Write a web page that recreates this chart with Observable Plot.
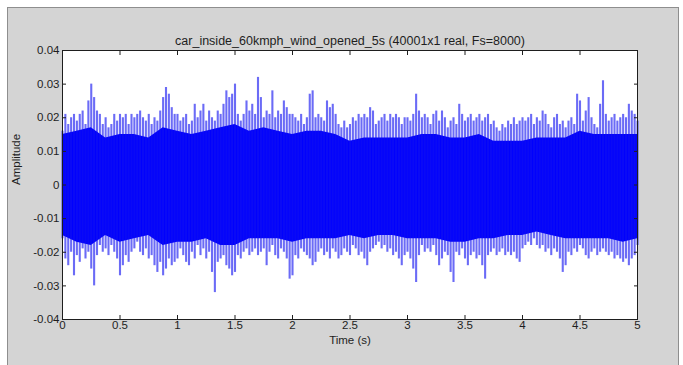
<!DOCTYPE html>
<html><head><meta charset="utf-8">
<script src="https://cdn.jsdelivr.net/npm/d3@7"></script>
<script src="https://cdn.jsdelivr.net/npm/@observablehq/plot@0.6"></script>
<style>
html,body{margin:0;padding:0;background:#fff;}
#wrap{position:relative;width:683px;height:365px;overflow:hidden;}
#panel{position:absolute;left:7px;top:7px;width:672px;height:380px;background:#d4d4d4;border:1px solid #8e8e8e;box-sizing:border-box;}
#chart{position:absolute;left:0;top:0;}
</style></head><body>
<div id="wrap"><div id="panel"></div><div id="chart"></div></div>
<script>
const titleText = "car_inside_60kmph_wind_opened_5s (40001x1 real, Fs=8000)";
const xLabel = "Time (s)";
const yLabel = "Amplitude";
const xTicks = [0, 0.5, 1, 1.5, 2, 2.5, 3, 3.5, 4, 4.5, 5];
const xTickLabels = ["0", "0.5", "1", "1.5", "2", "2.5", "3", "3.5", "4", "4.5", "5"];
const yTicks = [-0.04, -0.03, -0.02, -0.01, 0, 0.01, 0.02, 0.03, 0.04];
const yTickLabels = ["-0.04", "-0.03", "-0.02", "-0.01", "0", "0.01", "0.02", "0.03", "0.04"];

// time of each envelope reading (s)
const times = [
0,.025,.05,.075,.1,.125,.15,.175,.2,.225,.25,.275,.3,.325,.35,.375,.4,.425,.45,.475,
.5,.525,.55,.575,.6,.625,.65,.675,.7,.725,.75,.775,.8,.825,.85,.875,.9,.925,.95,.975,
1,1.025,1.05,1.075,1.1,1.125,1.15,1.175,1.2,1.225,1.25,1.275,1.3,1.325,1.35,1.375,1.4,1.425,1.45,1.475,
1.5,1.525,1.55,1.575,1.6,1.625,1.65,1.675,1.7,1.725,1.75,1.775,1.8,1.825,1.85,1.875,1.9,1.925,1.95,1.975,
2,2.025,2.05,2.075,2.1,2.125,2.15,2.175,2.2,2.225,2.25,2.275,2.3,2.325,2.35,2.375,2.4,2.425,2.45,2.475,
2.5,2.525,2.55,2.575,2.6,2.625,2.65,2.675,2.7,2.725,2.75,2.775,2.8,2.825,2.85,2.875,2.9,2.925,2.95,2.975,
3,3.025,3.05,3.075,3.1,3.125,3.15,3.175,3.2,3.225,3.25,3.275,3.3,3.325,3.35,3.375,3.4,3.425,3.45,3.475,
3.5,3.525,3.55,3.575,3.6,3.625,3.65,3.675,3.7,3.725,3.75,3.775,3.8,3.825,3.85,3.875,3.9,3.925,3.95,3.975,
4,4.025,4.05,4.075,4.1,4.125,4.15,4.175,4.2,4.225,4.25,4.275,4.3,4.325,4.35,4.375,4.4,4.425,4.45,4.475,
4.5,4.525,4.55,4.575,4.6,4.625,4.65,4.675,4.7,4.725,4.75,4.775,4.8,4.825,4.85,4.875,4.9,4.925,4.95,4.975,
5];

// upper (max) envelope of the waveform
const upper = [
.016,.021,.018,.020,.021,.019,.021,.022,.018,.025,.030,.026,.022,.021,.018,.020,.017,.018,.021,.019,
.021,.020,.021,.018,.021,.020,.021,.022,.020,.019,.021,.018,.020,.019,.022,.026,.029,.027,.023,.021,
.021,.019,.020,.021,.018,.019,.024,.020,.022,.024,.019,.022,.020,.019,.022,.021,.024,.028,.026,.027,
.030,.021,.019,.021,.025,.022,.024,.021,.032,.026,.020,.022,.021,.028,.020,.022,.021,.025,.023,.021,
.021,.020,.019,.021,.018,.020,.027,.028,.020,.021,.020,.019,.025,.023,.024,.021,.018,.017,.019,.017,
.018,.020,.019,.021,.020,.021,.020,.023,.022,.018,.019,.020,.021,.019,.021,.020,.021,.020,.018,.020,
.020,.019,.021,.027,.022,.020,.021,.020,.018,.021,.022,.019,.022,.020,.017,.019,.020,.018,.024,.021,
.019,.020,.021,.019,.020,.021,.019,.020,.021,.018,.019,.017,.016,.018,.017,.019,.018,.020,.018,.019,
.020,.019,.020,.021,.018,.020,.019,.022,.021,.018,.017,.020,.021,.018,.019,.017,.019,.020,.018,.027,
.025,.019,.022,.026,.020,.018,.017,.024,.031,.021,.019,.020,.021,.019,.020,.021,.020,.024,.022,.021,
.019];

// lower (min) envelope of the waveform
const lower = [
-.016,-.022,-.024,-.020,-.027,-.021,-.023,-.019,-.022,-.020,-.025,-.030,-.021,-.018,-.020,-.019,-.021,-.018,-.020,-.022,
-.027,-.024,-.021,-.023,-.020,-.019,-.017,-.020,-.021,-.019,-.022,-.021,-.024,-.026,-.023,-.027,-.025,-.022,-.024,-.023,
-.022,-.019,-.021,-.023,-.024,-.020,-.022,-.018,-.021,-.019,-.022,-.020,-.026,-.032,-.023,-.022,-.021,-.024,-.025,-.027,
-.026,-.021,-.022,-.020,-.019,-.021,-.020,-.019,-.021,-.020,-.019,-.024,-.020,-.018,-.021,-.022,-.019,-.020,-.022,-.028,
-.027,-.021,-.022,-.019,-.020,-.021,-.022,-.024,-.023,-.020,-.019,-.021,-.020,-.022,-.019,-.020,-.022,-.021,-.019,-.020,
-.021,-.018,-.019,-.021,-.020,-.022,-.024,-.020,-.019,-.018,-.017,-.019,-.018,-.020,-.019,-.021,-.020,-.022,-.024,-.021,
-.020,-.022,-.025,-.029,-.021,-.018,-.020,-.019,-.020,-.018,-.021,-.024,-.022,-.020,-.021,-.026,-.029,-.020,-.021,-.019,
-.022,-.024,-.021,-.020,-.022,-.021,-.024,-.028,-.021,-.020,-.019,-.021,-.020,-.019,-.021,-.020,-.021,-.020,-.022,-.023,
-.019,-.018,-.017,-.018,-.016,-.018,-.019,-.018,-.020,-.019,-.021,-.019,-.020,-.022,-.026,-.024,-.020,-.021,-.019,-.020,
-.018,-.019,-.021,-.022,-.020,-.019,-.021,-.020,-.019,-.020,-.021,-.020,-.022,-.021,-.022,-.023,-.022,-.024,-.022,-.021,
-.018];

// dense (solid) core band edges, read every 0.125 s
const coreTimes = [0,.125,.25,.375,.5,.625,.75,.875,1,1.125,1.25,1.375,1.5,1.625,1.75,1.875,2,2.125,2.25,2.375,2.5,
  2.625,2.75,2.875,3,3.125,3.25,3.375,3.5,3.625,3.75,3.875,4,4.125,4.25,4.375,4.5,4.625,4.75,4.875,5];
const coreUpper = [.015,.016,.017,.014,.015,.015,.014,.017,.016,.015,.016,.017,.018,.016,.017,.016,.015,.016,.016,.015,.013,
  .014,.014,.014,.014,.015,.015,.014,.014,.015,.013,.013,.013,.014,.014,.014,.016,.015,.015,.015,.015];
const coreLower = [-.015,-.017,-.018,-.015,-.017,-.016,-.015,-.018,-.017,-.017,-.016,-.018,-.018,-.016,-.016,-.016,-.017,-.016,-.016,-.016,-.015,
  -.016,-.015,-.015,-.016,-.016,-.016,-.017,-.017,-.016,-.016,-.015,-.015,-.014,-.015,-.016,-.016,-.016,-.016,-.017,-.016];

const rows = times.map((t, i) => ({t, hi: upper[i], lo: lower[i]}));
const coreRows = coreTimes.map((t, i) => ({t, hi: coreUpper[i], lo: coreLower[i]}));
const xFmt = new Map(xTicks.map((d, i) => [d, xTickLabels[i]]));
const yFmt = new Map(yTicks.map((d, i) => [d, yTickLabels[i]]));

const chart = Plot.plot({
  width: 683, height: 365,
  marginLeft: 62, marginRight: 46, marginTop: 50, marginBottom: 46,
  style: {background: "transparent", fontFamily: "'Liberation Sans', Arial, sans-serif", fontSize: "11.5px", color: "#1e1e1e"},
  x: {domain: [0, 5]},
  y: {domain: [-0.04, 0.04]},
  marks: [
    Plot.frame({fill: "white"}),
    Plot.areaY(coreRows, {x: "t", y1: "lo", y2: "hi", fill: "#0000ff"}),
    Plot.ruleX(rows, {x: "t", y1: "lo", y2: "hi", stroke: "#1010f0", strokeWidth: 2.1, strokeOpacity: 0.62}),
    Plot.axisX({anchor: "bottom", ticks: xTicks, tickSize: -4, tickPadding: 5, tickFormat: d => xFmt.get(d), label: null}),
    Plot.axisX({anchor: "top", ticks: xTicks, tickSize: -4, tickFormat: () => "", label: null}),
    Plot.axisY({anchor: "left", ticks: yTicks, tickSize: -4, tickPadding: 7, tickFormat: d => yFmt.get(d), label: null}),
    Plot.axisY({anchor: "right", ticks: yTicks, tickSize: -4, tickFormat: () => "", label: null}),
    Plot.frame({stroke: "#1e1e1e"}),
    Plot.text([titleText], {text: d => d, frameAnchor: "top", dy: -14, fontSize: 12.5}),
    Plot.text([xLabel], {text: d => d, frameAnchor: "bottom", dy: 24}),
    Plot.text([yLabel], {text: d => d, frameAnchor: "left", dx: -46, rotate: -90})
  ]
});
document.getElementById("chart").appendChild(chart);
</script>
</body></html>
